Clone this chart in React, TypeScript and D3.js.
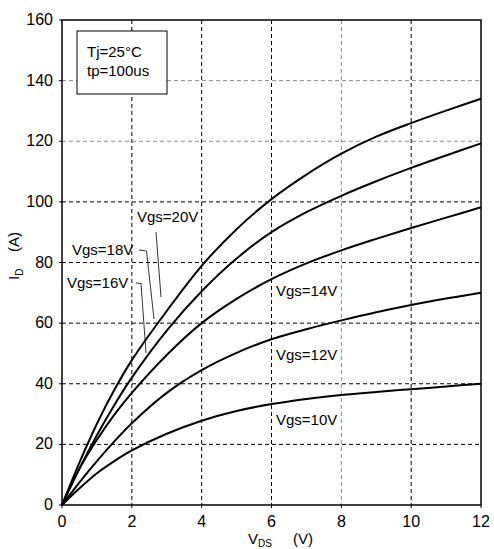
import React from "react";
import * as d3 from "d3";

const vds = [0, 0.5, 1, 1.5, 2, 3, 4, 5, 6, 7, 8, 9, 10, 11, 12];
const id20 = [0, 14, 26.8, 38, 47.8, 64, 78.9, 91, 100.9, 109, 115.9, 121.5, 126, 130.1, 134];
const id18 = [0, 12, 23, 33, 42, 57.5, 70.5, 81.3, 90, 96.6, 102, 106.8, 111.2, 115.3, 119.3];
const id14 = [0, 12, 21.5, 29.8, 37, 49.5, 60, 68, 74.5, 79.7, 84, 87.8, 91.4, 94.8, 98.2];
const id12 = [0, 7.5, 14.5, 21, 27, 37, 44.5, 50.2, 54.7, 58, 60.9, 63.6, 66, 68.1, 70];
const id10 = [0, 5.5, 10.5, 14.5, 18, 23.5, 27.8, 31, 33.3, 35, 36.3, 37.3, 38.2, 39.1, 40];
const seriesList = [id20, id18, id14, id12, id10];

const xTicks = [0, 2, 4, 6, 8, 10, 12];
const yTicks = [0, 20, 40, 60, 80, 100, 120, 140, 160];
const grayX = [8];
const grayY = [120, 140];

const rightLabels = [
  { text: "Vgs=14V", v: 6.1, i: 70.5 },
  { text: "Vgs=12V", v: 6.1, i: 49.5 },
  { text: "Vgs=10V", v: 6.1, i: 28 },
];

const FONT = "'Liberation Sans', Arial, sans-serif";

export default function App() {
  const W = 494, H = 549;
  const L = 62, R = 481, T = 20, B = 505;
  const x = d3.scaleLinear().domain([0, 12]).range([L, R]);
  const y = d3.scaleLinear().domain([0, 160]).range([B, T]);
  const line = d3
    .line<number>()
    .x((_, k) => x(vds[k]))
    .y((d) => y(d))
    .curve(d3.curveCatmullRom.alpha(0.5));

  return (
    <svg width={W} height={H} style={{ position: "absolute", left: 0, top: 0, background: "#fff" }} fontFamily={FONT}>
      <rect width={W} height={H} fill="#fff" />
      {/* grid */}
      {xTicks.slice(1, -1).map((t) => (
        <line key={"gx" + t} x1={x(t)} x2={x(t)} y1={T} y2={B}
          stroke={grayX.includes(t) ? "#888" : "#000"} strokeWidth={1} strokeDasharray="4,3" />
      ))}
      {yTicks.slice(1, -1).map((t) => (
        <line key={"gy" + t} x1={L} x2={R} y1={y(t)} y2={y(t)}
          stroke={grayY.includes(t) ? "#888" : "#000"} strokeWidth={1} strokeDasharray="4,3" />
      ))}
      {/* frame */}
      <rect x={L} y={T} width={R - L} height={B - T} fill="none" stroke="#000" strokeWidth={1.5} />
      {/* ticks */}
      {yTicks.map((t) => (
        <g key={"ty" + t}>
          <line x1={L - 3} x2={L} y1={y(t)} y2={y(t)} stroke="#000" strokeWidth={1} />
          <text x={53} y={y(t) + 5} fontSize={16} textAnchor="end" fill="#000">{t}</text>
        </g>
      ))}
      {xTicks.map((t) => (
        <g key={"tx" + t}>
          <line x1={x(t)} x2={x(t)} y1={B} y2={B + 3} stroke="#000" strokeWidth={1} />
          <text x={x(t)} y={527} fontSize={16} textAnchor="middle" fill="#000">{t}</text>
        </g>
      ))}
      {/* curves */}
      {seriesList.map((s, k) => (
        <path key={"c" + k} d={line(s) || ""} fill="none" stroke="#000" strokeWidth={2} />
      ))}
      {/* info box */}
      <rect x={77} y={31} width={90} height={63} fill="#fff" stroke="#000" strokeWidth={1} />
      <text x={87} y={57} fontSize={15} fill="#000">Tj=25°C</text>
      <text x={87} y={76} fontSize={15} fill="#000">tp=100us</text>
      {/* left labels with leaders */}
      <text x={137} y={222} fontSize={15} fill="#000">Vgs=20V</text>
      <text x={72} y={255} fontSize={15} fill="#000">Vgs=18V</text>
      <text x={67} y={288} fontSize={15} fill="#000">Vgs=16V</text>
      <polyline points="156,232 161,297" fill="none" stroke="#000" strokeWidth={0.8} />
      <polyline points="139,250 146.5,251 154,319" fill="none" stroke="#000" strokeWidth={0.8} />
      <polyline points="136,283 141,283.5 146,353" fill="none" stroke="#000" strokeWidth={0.8} />
      {/* right labels */}
      {rightLabels.map((lb) => (
        <text key={lb.text} x={x(lb.v) + 1} y={y(lb.i) + 5} fontSize={15} fill="#000">{lb.text}</text>
      ))}
      {/* axis titles */}
      <text transform="translate(19,280) rotate(-90)" fontSize={15} fill="#000">
        I<tspan dy={4} fontSize={10}>D</tspan>
      </text>
      <text transform="translate(19,252) rotate(-90)" fontSize={15} fill="#000">(A)</text>
      <text x={248} y={544} fontSize={15} fill="#000">
        V<tspan dy={3} fontSize={10}>DS</tspan>
      </text>
      <text x={293} y={544} fontSize={15} fill="#000">(V)</text>
    </svg>
  );
}
